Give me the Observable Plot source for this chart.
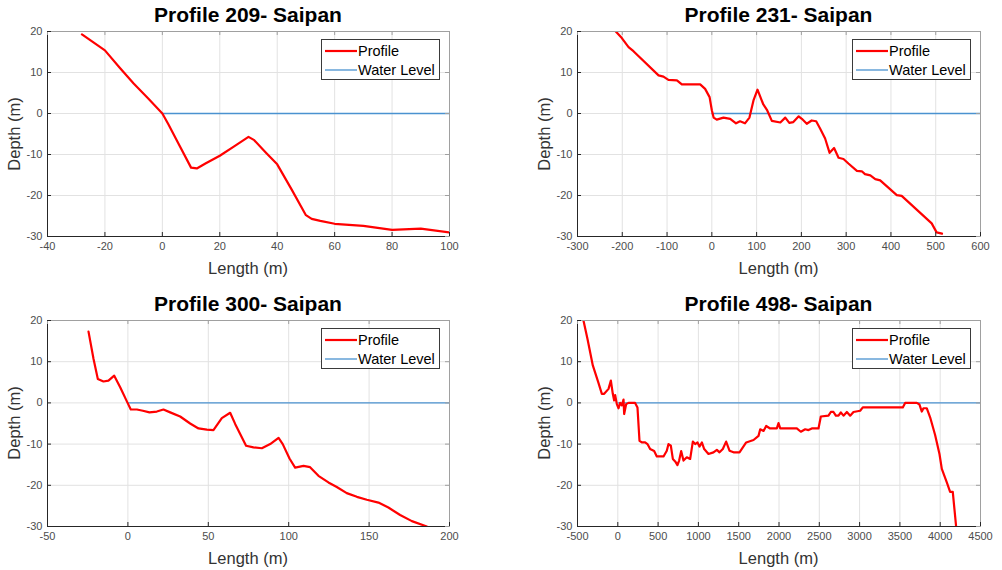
<!DOCTYPE html>
<html><head><meta charset="utf-8">
<script src="https://cdn.jsdelivr.net/npm/d3@7"></script>
<script src="https://cdn.jsdelivr.net/npm/@observablehq/plot@0.6"></script>
<style>
body{margin:0;background:#fff;font-family:"Liberation Sans",Arial,sans-serif;}
#root{position:relative;width:1002px;height:570px;overflow:hidden;background:#fff;}
.abs{position:absolute;}
.title{font-weight:bold;font-size:21px;color:#000;transform:translate(-50%,-50%);white-space:nowrap;}
.xlabel{font-size:16.5px;color:#333;transform:translate(-50%,-50%);white-space:nowrap;}
.ylabel{font-size:16.5px;color:#333;transform:translate(-50%,-50%) rotate(-90deg);white-space:nowrap;}
.legend{border:1px solid #3a3a3a;background:#fff;box-sizing:border-box;}
.legtext{font-size:14.5px;color:#000;transform:translateY(-50%);white-space:nowrap;}
</style></head><body><div id="root"></div><script>
// ---- Data ----
const titles = ["Profile 209- Saipan", "Profile 231- Saipan", "Profile 300- Saipan", "Profile 498- Saipan"];
const legendLabels = ["Profile", "Water Level"];
const yTicks = [-30, -20, -10, 0, 10, 20];

const length209 = [-28, -20, -15, -10, -5, 0, 2, 5, 10, 12, 15, 20, 25, 30, 32, 36, 40, 45, 50, 52, 55, 60, 70, 80, 90, 100];
const depth209  = [19.3, 15.4, 11.3, 7.3, 3.7, 0, -2.5, -6.5, -13.2, -13.4, -12.2, -10.3, -8, -5.7, -6.5, -9.5, -12.4, -18.5, -24.8, -25.7, -26.2, -26.9, -27.4, -28.4, -28.1, -29];
const xTicks209 = [-40, -20, 0, 20, 40, 60, 80, 100];
const water209  = [0, 100];

const length231 = [-216, -201, -186, -175, -119, -108, -97, -78, -67, -26, -15, -5, 0, 4, 11, 26, 41, 54, 63, 74, 84, 93, 102, 115, 123, 134, 153, 164, 173, 182, 194, 201, 212, 223, 233, 242, 253, 263, 273, 283, 294, 305, 324, 335, 342, 354, 365, 376, 413, 424, 491, 502, 514];
const depth231  = [20.2, 18.4, 16.2, 15.2, 9.3, 9.0, 8.2, 8.1, 7.1, 7.1, 6.0, 4.0, 0.8, -1.0, -1.5, -1.0, -1.3, -2.4, -1.9, -2.4, -1.0, 3.2, 5.8, 2.2, 0.9, -1.8, -2.2, -1.0, -2.3, -2.1, -0.7, -1.3, -2.5, -1.7, -1.9, -3.7, -6.1, -9.6, -8.4, -10.8, -11.1, -12.2, -14.0, -14.1, -14.8, -15.1, -16.0, -16.3, -19.9, -20.1, -26.8, -29.0, -29.3];
const xTicks231 = [-300, -200, -100, 0, 100, 200, 300, 400, 500, 600];
const water231  = [0, 600];

const length300 = [-24.5, -21.4, -18.7, -15.2, -12.1, -8.5, -4.8, -0.2, 1.8, 5.6, 9.3, 13.4, 18, 22.1, 26.3, 32.5, 38.7, 43.9, 49.1, 53.2, 58.4, 63.6, 66.7, 73.5, 78.1, 83.3, 88.5, 93.7, 96.3, 100.5, 104, 109.2, 113.3, 118.5, 124.7, 129.9, 136.1, 142.4, 148.6, 155.8, 162, 169.3, 176.6, 185.9];
const depth300  = [17.3, 10.7, 5.8, 5.2, 5.4, 6.6, 3.8, 0.0, -1.6, -1.6, -1.9, -2.3, -2.1, -1.6, -2.3, -3.3, -5.0, -6.2, -6.5, -6.6, -3.7, -2.4, -5.1, -10.4, -10.8, -11.0, -10.0, -8.5, -10.0, -13.5, -15.7, -15.3, -15.6, -17.7, -19.3, -20.4, -21.9, -22.8, -23.5, -24.2, -25.4, -27.2, -28.7, -30];
const xTicks300 = [-50, 0, 50, 100, 150, 200];
const water300  = [0, 200];

const length498 = [-426, -376, -310, -239, -198, -169, -115, -86, -62, -45, -33, -12, 9, 29, 50, 71, 79, 104, 133, 215, 244, 269, 298, 339, 368, 401, 451, 484, 567, 608, 629, 658, 683, 712, 740, 761, 786, 815, 856, 898, 931, 960, 989, 1013, 1043, 1072, 1125, 1187, 1229, 1262, 1303, 1344, 1386, 1436, 1510, 1593, 1684, 1746, 1767, 1808, 1841, 1890, 1973, 1994, 2015, 2221, 2271, 2325, 2366, 2407, 2490, 2519, 2614, 2643, 2676, 2705, 2738, 2767, 2800, 2842, 2883, 2924, 3007, 3040, 3536, 3565, 3710, 3743, 3772, 3792, 3834, 3875, 3937, 3991, 4020, 4082, 4123, 4156, 4200];
const depth498  = [20, 15.5, 9.1, 4.8, 2.2, 2.2, 3.4, 5.4, 2.2, 0.6, 1.9, -0.3, -1.3, 0.0, -0.6, 0.8, -2.7, -0.3, 0.0, 0.0, -1.1, -9.2, -9.6, -9.6, -10.0, -11.2, -11.7, -13.0, -13.0, -11.6, -10.0, -10.4, -13.6, -14.2, -15.1, -14.0, -11.7, -14.0, -13.2, -13.6, -9.4, -10.0, -9.6, -10.6, -9.6, -11.2, -12.4, -12.0, -11.4, -12.0, -11.2, -9.4, -11.6, -12.0, -12.0, -9.6, -9.0, -8.0, -6.4, -6.8, -5.6, -6.2, -6.2, -4.9, -6.2, -6.2, -7.0, -6.4, -6.6, -6.2, -6.2, -3.3, -3.1, -2.2, -2.2, -3.1, -3.1, -2.3, -3.1, -2.2, -3.1, -2.2, -1.9, -1.1, -1.1, 0.0, 0.0, -0.4, -2.1, -1.3, -1.3, -3.5, -7.8, -12.4, -16.0, -19.3, -21.6, -21.6, -30.5];
const xTicks498 = [-500, 0, 500, 1000, 1500, 2000, 2500, 3000, 3500, 4000, 4500];
const water498  = [0, 4500];

// ---- Layout ----
const root = document.getElementById("root");
const panels = [
  {title: titles[0], xs: length209, ys: depth209, xTicks: xTicks209, water: water209, box: [47, 449, 31, 236], left: 0, top: 20, width: 500},
  {title: titles[1], xs: length231, ys: depth231, xTicks: xTicks231, water: water231, box: [577, 980, 31, 236], left: 500, top: 20, width: 502},
  {title: titles[2], xs: length300, ys: depth300, xTicks: xTicks300, water: water300, box: [47, 449, 320, 526], left: 0, top: 305, width: 500},
  {title: titles[3], xs: length498, ys: depth498, xTicks: xTicks498, water: water498, box: [577, 980, 320, 526], left: 500, top: 305, width: 502}
];

function el(cls, text, x, y) {
  const d = document.createElement("div");
  d.className = "abs " + cls;
  if (text != null) d.textContent = text;
  d.style.left = x + "px"; d.style.top = y + "px";
  root.appendChild(d);
  return d;
}

const waterColor = "#4a92d0";

for (const p of panels) {
  const [bx0, bx1, by0, by1] = p.box;
  const height = 265;
  const ml = bx0 - p.left, mr = p.left + p.width - bx1, mt = by0 - p.top, mb = p.top + height - by1;
  const xDomain = [p.xTicks[0], p.xTicks[p.xTicks.length - 1]];
  const yDomain = [yTicks[0], yTicks[yTicks.length - 1]];
  const data = p.xs.map((x, i) => ({x, y: p.ys[i]}));
  const tl = 4;
  const ky = tl * (yDomain[1] - yDomain[0]) / (by1 - by0);
  const kx = tl * (xDomain[1] - xDomain[0]) / (bx1 - bx0);
  const dark = "#262626", light = "#a0a0a0";
  const svg = Plot.plot({
    width: p.width, height,
    marginLeft: ml, marginRight: mr, marginTop: mt, marginBottom: mb,
    style: {fontFamily: "'Liberation Sans', Arial, sans-serif", fontSize: "11px", background: "transparent", overflow: "visible"},
    x: {domain: xDomain, label: null},
    y: {domain: yDomain, label: null},
    marks: [
      Plot.gridX(p.xTicks, {stroke: "#e2e2e2", strokeOpacity: 1}),
      Plot.gridY(yTicks, {stroke: "#e2e2e2", strokeOpacity: 1}),
      Plot.ruleY([0], {x1: p.water[0], x2: p.water[1], stroke: waterColor, strokeWidth: 1.3}),
      Plot.line(data, {x: "x", y: "y", stroke: "#ff0000", strokeWidth: 2.2, strokeLinejoin: "round", clip: true}),
      Plot.frame({stroke: light}),
      Plot.ruleX([xDomain[0]], {stroke: dark}),
      Plot.ruleY([yDomain[0]], {stroke: dark}),
      Plot.ruleX(p.xTicks, {x: d => d, y1: yDomain[0], y2: yDomain[0] + ky, stroke: dark}),
      Plot.ruleX(p.xTicks, {x: d => d, y1: yDomain[1], y2: yDomain[1] - ky, stroke: light}),
      Plot.ruleY(yTicks, {y: d => d, x1: xDomain[0], x2: xDomain[0] + kx, stroke: dark}),
      Plot.ruleY(yTicks, {y: d => d, x1: xDomain[1], x2: xDomain[1] - kx, stroke: light}),
      Plot.axisX(p.xTicks, {tickSize: 0, tickPadding: 6, tickFormat: d => String(d), label: null, fill: "#4d4d4d", fontSize: 11}),
      Plot.axisY(yTicks, {tickSize: 0, tickPadding: 5, tickFormat: d => String(d), label: null, fill: "#4d4d4d", fontSize: 11})
    ]
  });
  svg.style.position = "absolute";
  svg.style.left = p.left + "px";
  svg.style.top = p.top + "px";
  root.appendChild(svg);

  const cx = (bx0 + bx1) / 2, cy = (by0 + by1) / 2;
  el("title", p.title, cx, by0 - 16);
  el("xlabel", "Length (m)", cx, by1 + 32);
  el("ylabel", "Depth (m)", bx0 - 33, cy);

  // legend
  const lw = 119, lh = 41;
  const lg = el("legend", null, bx1 - 9 - lw, by0 + 8);
  lg.style.width = lw + "px"; lg.style.height = lh + "px";
  const colors = ["#ff0000", waterColor], widths = [2.2, 1.3];
  legendLabels.forEach((lab, i) => {
    const ry = 12 + i * 19;
    const s = document.createElementNS("http://www.w3.org/2000/svg", "svg");
    s.setAttribute("width", 32); s.setAttribute("height", 6);
    s.style.position = "absolute"; s.style.left = "3px"; s.style.top = (ry - 3 - 1) + "px";
    const ln = document.createElementNS("http://www.w3.org/2000/svg", "line");
    ln.setAttribute("x1", 0); ln.setAttribute("x2", 32); ln.setAttribute("y1", 3); ln.setAttribute("y2", 3);
    ln.setAttribute("stroke", colors[i]); ln.setAttribute("stroke-width", widths[i]);
    s.appendChild(ln); lg.appendChild(s);
    const t = document.createElement("div");
    t.className = "abs legtext"; t.textContent = lab;
    t.style.left = "36px"; t.style.top = (ry - 1) + "px";
    lg.appendChild(t);
  });
}
</script></body></html>
